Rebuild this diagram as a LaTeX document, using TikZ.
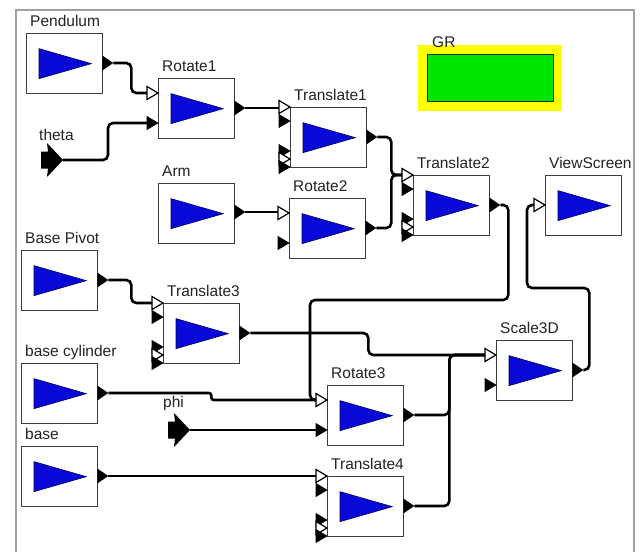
\documentclass[tikz,border=0pt]{standalone}
\usepackage{fontspec}
\setmainfont{Liberation Sans}
\usetikzlibrary{calc}
\definecolor{blkborder}{RGB}{60,60,60}
\definecolor{triblue}{RGB}{8,8,215}
\definecolor{trinavy}{RGB}{0,0,90}
\definecolor{grgreen}{RGB}{0,230,0}
\definecolor{gryellow}{RGB}{255,255,0}
\definecolor{framegray}{RGB}{160,160,160}
\definecolor{txt}{RGB}{35,35,35}
\tikzset{
  blk/.style={draw=blkborder, fill=white, line width=1.3pt, minimum width=76pt, minimum height=60pt, inner sep=0pt},
  tri/.style={fill=triblue, draw=trinavy, line width=0.6pt},
  lbl/.style={inner sep=0pt, text=txt, font=\fontsize{15.5}{18}\selectfont},
  wire/.style={line width=2.6pt, rounded corners=5pt},
  openport/.style={fill=white, draw=black, line width=1.2pt},
  fullport/.style={fill=black, draw=black, line width=0.6pt},
}
\newcommand\block[4]{%
  \node[blk, anchor=north west] (#1) at (#2,#3) {};
  \filldraw[tri] ($(#1.west)+(13,-15)$) -- ($(#1.east)+(-12,0)$) -- ($(#1.west)+(13,15)$) -- cycle;
  \node[lbl, anchor=base west] (#1-l) at ($(#1.north west)+(4,-7)$) {#4};
}
\newcommand\oport[2]{%
  \coordinate (#1-o) at ($(#1.north east)+(10,#2)$);
  \fill ($(#1.north east)+(-1,#2-7.5)$) -- (#1-o) -- ($(#1.north east)+(-1,#2+7.5)$) -- cycle;
}
\newcommand\iport[4]{%
  \coordinate (#1-#2) at ($(#1.north west)+(-11,#3)$);
  \filldraw[#4] ($(#1.north west)+(-11,#3-6.5)$) -- ($(#1.north west)+(0,#3)$) -- ($(#1.north west)+(-11,#3+6.5)$) -- cycle;
}
\newcommand\transports[1]{%
  \iport{#1}{i1}{0}{openport}
  \iport{#1}{i2}{14}{fullport}
  \iport{#1}{i3}{44}{fullport}
  \iport{#1}{i4}{52}{openport}
  \iport{#1}{i5}{60}{fullport}
  \oport{#1}{30}
}
\newcommand\rotports[1]{%
  \iport{#1}{i1}{15}{openport}
  \iport{#1}{i2}{45}{fullport}
  \oport{#1}{30}
}
\begin{document}
\begin{tikzpicture}[x=1pt, y=-1pt]
\useasboundingbox (0,0) rectangle (641,552);
\fill[white] (0,0) rectangle (641,552);
% frame
\draw[framegray, line width=1.2pt] (16,552) -- (16,10) -- (634,10) -- (634,552);

% GR display
\node[fill=gryellow, minimum width=144pt, minimum height=66pt, inner sep=0pt, anchor=north west] (grbg) at (418,45) {};
\node[fill=grgreen, draw=black!85, line width=1.3pt, minimum width=126pt, minimum height=47pt, inner sep=0pt] (gr) at (grbg.center) {};
\node[lbl, anchor=base west] (gr-l) at (432,47) {GR};

% blocks
\block{pend}{26}{33}{Pendulum}
\oport{pend}{30}
\block{rot1}{158}{78}{Rotate1}
\rotports{rot1}
\block{tr1}{290}{107}{Translate1}
\transports{tr1}
\block{arm}{158}{183}{Arm}
\oport{arm}{29}
\block{rot2}{289}{198}{Rotate2}
\rotports{rot2}
\block{tr2}{413}{175}{Translate2}
\transports{tr2}
\block{vs}{545}{175}{ViewScreen}
\iport{vs}{i1}{30}{openport}
\block{bpiv}{21}{250}{Base Pivot}
\oport{bpiv}{30}
\block{tr3}{163}{303}{Translate3}
\transports{tr3}
\block{bcyl}{21}{363}{base cylinder}
\oport{bcyl}{30}
\block{rot3}{327}{385}{Rotate3}
\rotports{rot3}
\block{bas}{21}{446}{base}
\oport{bas}{30}
\block{tr4}{327}{476}{Translate4}
\transports{tr4}
\block{sc}{496}{340}{Scale3D}
\rotports{sc}

% parameter sources
\coordinate (theta-o) at (63,160);
\fill ($(theta-o)+(-22,-8.5)$) -- ($(theta-o)+(-15,-8.5)$) -- ($(theta-o)+(-16,-17)$) -- (theta-o) -- ($(theta-o)+(-16,17)$) -- ($(theta-o)+(-15,8.5)$) -- ($(theta-o)+(-22,8.5)$) -- cycle;
\node[lbl, anchor=base west] (theta-l) at (39,140) {theta};
\coordinate (phi-o) at (190,430);
\fill ($(phi-o)+(-22,-8.5)$) -- ($(phi-o)+(-15,-8.5)$) -- ($(phi-o)+(-16,-17)$) -- (phi-o) -- ($(phi-o)+(-16,17)$) -- ($(phi-o)+(-15,8.5)$) -- ($(phi-o)+(-22,8.5)$) -- cycle;
\node[lbl, anchor=base west] (phi-l) at (163,407) {phi};

% wires
\draw[wire] (pend-o) -- ++(18,0) |- (rot1-i1);
\draw[wire] (theta-o) -- ++(45,0) |- (rot1-i2);
\draw[wire] (rot1-o) -- (rot1-o -| tr1-i1);
\draw[wire] (tr1-o) -- ++(14,0) |- (tr2-i1);
\draw[wire] (rot2-o) -- ++(15,0) |- (tr2-i1);
\draw[wire] (arm-o) -- (arm-o -| rot2-i1);
\draw[wire] (tr2-o) -- ++(8,0) |- ($(rot3-i1)+(-6,-100)$) |- (rot3-i1);
\draw[wire, rounded corners=2.5pt] (bcyl-o) -- ++(103,0) |- (rot3-i1);
\draw[wire] (phi-o) -- (rot3-i2);
\draw[wire] (bpiv-o) -- ++(23,0) |- (tr3-i1);
\draw[wire] (tr3-o) -- ++(118,0) |- (sc-i1);
\draw[wire] (rot3-o) -- ++(35,0) |- (sc-i1);
\draw[wire] (tr4-o) -- ++(35,0) |- (sc-i1);
\draw[wire] (bas-o) -- (bas-o -| tr4-i1);
\draw[wire] (sc-o) -- ++(6,0) |- ($(vs-i1)+(-7,83)$) |- (vs-i1);
\end{tikzpicture}
\end{document}
